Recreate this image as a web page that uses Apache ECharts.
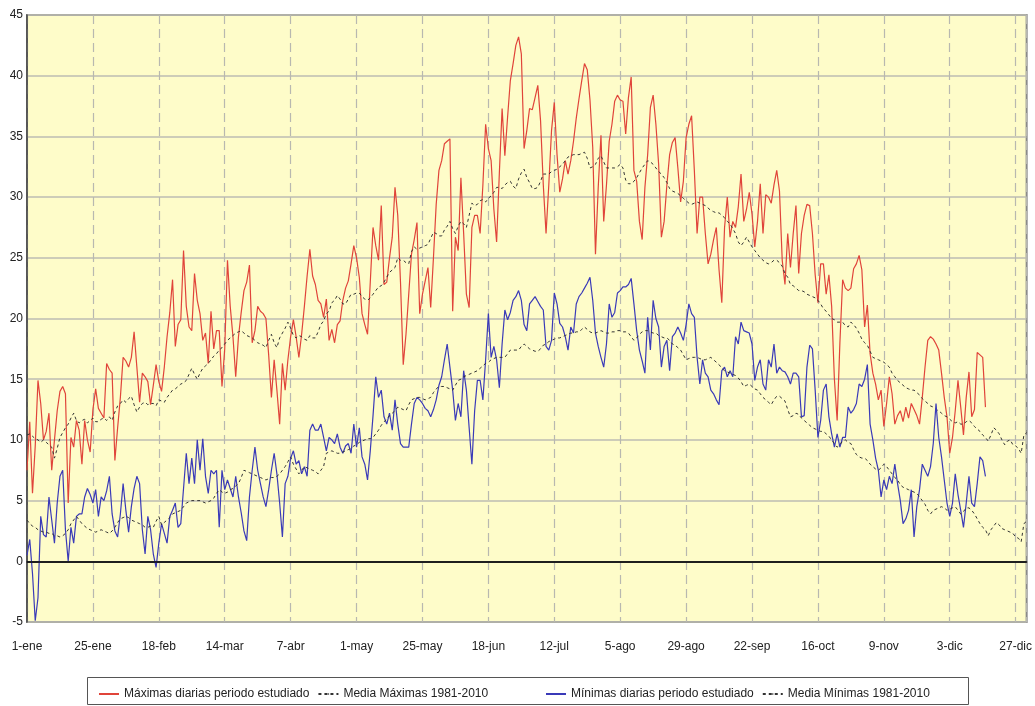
<!DOCTYPE html>
<html>
<head>
<meta charset="utf-8">
<script src="https://cdn.jsdelivr.net/npm/echarts@6/dist/echarts.min.js"></script>
<style>
html, body { margin: 0; padding: 0; background: #ffffff; }
#main { width: 1035px; height: 706px; }
</style>
</head>
<body>
<div id="main"></div>
<script>
// etiquetas del eje x (cada 24 dias)
var dayLabels = ['1-ene','25-ene','18-feb','14-mar','7-abr','1-may','25-may','18-jun','12-jul','5-ago','29-ago','22-sep','16-oct','9-nov','3-dic','27-dic'];

// maximas diarias periodo estudiado (dia 0 = 1-ene)
var maxDaily = [
7.5,11.5,5.6,9.5,14.9,13,10,10.7,12.2,7.5,
10,12.4,14,14.4,13.8,4.8,10.2,9.4,11.6,10.8,
8,11.6,10,9,12.5,14.2,12.6,12.2,11.8,16.3,
15.8,15.5,8.3,11,13.5,16.8,16.5,16,16.8,18.9,
16,13.1,15.5,15.2,14.8,12.9,14.5,16.2,14.8,14,
16,18.5,20.5,23.2,17.7,19.5,19.9,25.6,21,19.3,
19,23.7,21.5,20.4,18.2,18.8,16.3,20.6,17.5,19,
19,14.4,17.5,24.8,21,18.5,15.2,18.5,20.5,22.3,
23,24.4,18,19,21,20.6,20.4,20,17,13.5,
16.6,14.1,11.3,16.3,14.1,16.6,18.5,19.9,18.5,16.8,
18.7,21,23.5,25.7,23.5,22.8,21.5,21.2,20.1,21.6,
18.2,19.1,18,19.5,19.8,21.5,22.5,23.1,24.5,26,
25,23.4,20.4,19.5,18.7,23,27.5,26,24.8,29.3,
22.8,23,25,26.7,30.8,28.5,23,16.2,18.7,22,
25.3,26.5,27.9,20.4,22,23.1,24.2,20.9,25,29.4,
32.2,33,34.4,34.6,34.8,20.6,26.7,25.6,31.6,27,
22,20.9,27.5,28.5,28.5,27,31,36,34,33,
29,26.3,32,37.3,33.4,36.6,39.6,41,42.5,43.2,
41.8,34,35.5,37.3,37.2,38.2,39.2,36.3,31,27,
31,35.5,37.8,33.5,30.4,31.5,33,31.9,33,34.6,
36.5,38.1,39.6,41,40.5,38,34.1,25.3,30.8,35.1,
28,31,34.6,36,37.9,38.4,38,37.9,35.2,38.2,
39.9,32.2,31.3,28,26.5,30.8,33.5,37.4,38.4,36,
32.7,26.7,28,31,33.5,34.5,34.9,32.4,29.6,31.3,
34.9,36,36.7,32.2,27,30,30,27,24.5,25.3,
26.5,27.5,24,21.3,27.5,30,26.7,28,27.5,29.2,
31.9,28,29,30.4,28.6,25.9,28,31.1,27,30.2,
30,29.5,31,32.2,30.5,24.8,22.8,27,24.2,27,
29.3,23.7,27,28.5,29.4,29.3,27,23.6,21.3,24.5,
24.5,22,23.6,21,15,11.6,18,23.2,22.5,22.3,
22.5,24.1,24.5,25.2,24,19.3,21.1,17.1,15.5,14.6,
13.3,14.1,11.1,13,15.2,13.8,11.3,12,12.4,11.5,
12.7,11.8,13,12.5,12,11.3,13.5,16,18.2,18.5,
18.3,17.9,17.4,15.5,13.5,11.9,8.9,10.2,12.4,14.9,
12.7,10.4,13.5,15.6,11.9,12.5,17.2,17,16.8,12.7
];

// media maximas 1981-2010
var maxMean = [
10.4,10.5,10.3,10.1,10.0,9.8,10.0,9.8,9.6,9.4,
8.5,9.3,10.2,10.6,11.0,11.3,11.8,12.2,11.6,11.4,
11.6,11.7,11.4,11.6,11.8,11.5,11.5,11.7,11.8,11.6,
11.9,11.6,12.3,12.8,13.0,13.3,13.1,13.4,13.6,12.9,
12.3,12.7,13.0,13.1,12.9,13.0,13.0,12.8,13.3,13.2,
13.1,13.5,13.8,14.1,14.2,14.4,14.6,14.7,14.9,15.4,
15.9,15.4,15.0,15.5,15.9,16.1,16.3,16.6,16.9,17.1,
17.4,17.6,17.9,18.2,18.4,18.6,18.8,18.9,19.0,18.8,
18.6,18.5,18.4,18.2,18.0,17.9,17.8,17.6,18.2,18.7,
18.0,17.6,18.4,18.8,19.2,19.7,19.2,18.6,18.4,18.6,
18.5,18.3,18.2,18.6,18.4,18.4,18.9,19.5,19.8,20.4,
20.6,21.3,21.5,21.9,21.6,21.2,21.2,21.6,22.0,22.0,
22.1,22.1,21.8,21.6,21.5,21.7,22.0,22.3,22.6,22.7,
23.0,23.4,23.8,24.0,24.2,25.0,24.8,24.8,24.6,24.5,
25.5,25.9,25.7,25.8,25.9,26.0,26.1,26.6,27.1,27.0,
26.8,26.8,27.3,27.6,28.0,27.4,27.0,27.6,28.0,27.8,
27.5,28.5,29.5,29.3,29.4,29.7,29.8,29.6,29.9,30.1,
30.4,30.8,30.8,30.7,31.0,31.2,31.3,30.9,30.7,31.5,
32.0,32.3,31.6,31.2,30.7,30.7,30.8,31.3,31.9,31.9,
31.9,32.1,32.2,32.3,32.5,32.7,33.0,33.3,33.4,33.5,
33.5,33.5,33.6,33.7,33.2,32.4,32.5,32.7,33.2,33.4,
32.9,32.4,32.4,32.4,32.4,32.5,32.7,32.4,31.4,31.1,
31.1,31.3,31.6,32.0,32.4,32.7,33.0,32.9,32.7,32.4,
32.1,31.9,31.6,31.2,30.7,30.5,30.4,30.3,30.1,29.9,
29.7,29.5,29.4,29.5,29.6,29.5,29.4,29.3,29.1,28.9,
28.8,28.7,28.7,28.5,28.3,28.0,27.8,27.4,27.0,26.3,
26.0,26.3,26.7,26.3,25.9,25.6,25.3,25.0,24.8,24.6,
24.5,24.6,24.8,24.8,24.6,24.3,23.7,23.4,22.8,22.7,
22.5,22.3,22.3,22.2,22.0,21.9,21.8,21.7,21.5,21.2,
20.8,20.6,20.3,20.0,19.9,19.7,19.7,19.7,19.4,19.3,
19.7,19.5,19.2,18.8,18.3,18.0,17.8,17.3,16.8,16.7,
16.6,16.5,16.4,16.2,16.0,15.5,15.2,14.9,14.7,14.5,
14.3,14.2,14.1,14.1,13.9,13.7,13.4,13.2,13.0,12.8,
12.7,12.5,12.4,12.2,12.0,11.9,11.7,11.5,11.4,11.5,
11.3,11.3,11.5,11.6,11.4,11.1,10.9,10.7,10.4,10.2,
9.9,10.4,11.0,10.8,10.5,10.0,9.6,9.9,10.0,9.6,
9.5,9.3,8.9,10.4,10.6
];

// minimas diarias periodo estudiado
var minDaily = [
0.5,1.8,-1,-4.9,-3,3.7,2.2,2,5.3,3.4,
1.5,4.8,7,7.5,2.6,0,2.8,1.5,3.7,3.9,
3.9,5.3,6,5.5,4.8,5.9,3.7,5.3,5,5.8,
7,3.9,2.5,2,3.9,6.4,4.2,2.4,4.5,6,
7,6.4,2.6,0.6,3.7,2.6,0.6,-0.5,1.5,3.1,
2.3,1.5,3.7,4.2,4.8,2.8,3.1,6,8.9,6.4,
8.5,6.4,10,7.5,10.1,7,5.6,7.5,7.2,7.5,
2.8,7.5,5.9,6.7,6,5.3,7,5.3,4,2.5,
1.7,5.3,7.5,9.4,7.5,6.4,5.3,4.5,5.9,7.5,
8.9,7.2,4.8,2,6.4,7,8.5,9.1,8,8.3,
7.2,7.8,7,10.8,11.3,10.8,10.8,11.3,10.2,9.1,
10.2,10,9.7,10.5,9.4,8.9,9.5,9.7,8.9,11.3,
9.4,11,8.6,8,6.7,9.1,12,15.2,13.5,14.1,
11.9,11.3,12.2,10.8,13.3,11.3,9.7,9.4,9.4,9.4,
11.3,13,13.5,13.3,13,12.6,12.4,11.9,12.5,13.3,
14.5,15.2,16.6,17.9,16,14.1,11.6,13,11.9,15.7,
14.1,11,8,12.4,14.9,14.9,13.3,16.6,20.4,16.8,
17.7,16.6,14.3,17.9,20.7,19.9,20.5,21.5,21.8,22.3,
21.5,19.5,19,21.2,21.5,21.8,21.4,21,20.7,17.7,
17.4,18.2,22.1,21.2,19.6,19.3,18.5,17.4,19.3,18.8,
21.2,21.8,22.1,22.5,22.9,23.4,21.5,18.8,17.7,16.8,
16,17.9,21.2,20.1,20.5,22.1,22.3,22.6,22.6,22.8,
23.3,21.2,19,17.4,16.5,15.5,20.1,17.4,21.5,20,
19.3,16,17.7,18.2,15.7,18.5,18.8,19.3,18.8,18.2,
19.5,21.2,20.4,20.1,16.8,14.6,16.6,15.5,15.2,14.1,
13.8,13.3,12.9,15.7,16,15.2,15.7,15.2,18.5,17.9,
19.7,19,18.9,18.8,17.9,14.9,16,16.6,14.6,14.1,
16.6,16,17.9,15.5,16,15.7,15.6,15.2,14.6,15.5,
15.5,15.2,11.9,12,16,17.8,17.5,14.1,10.2,11.6,
14.1,14.6,11.9,10.5,9.4,10.5,9.4,10.2,10.2,12.7,
12.2,12.5,13,14.6,14.4,15,16.2,11.3,10,8.5,
7.5,5.3,6.7,5.9,7,6.4,8,6.4,5,3.1,
3.5,4.2,5.9,2,4.5,5.9,8,7.5,7,7.8,
9.7,13,10.2,8.6,6.7,4.8,3.7,4.8,7.2,5.5,
4.2,2.8,4.8,7,4.8,4.5,6.4,8.6,8.3,7
];

// media minimas 1981-2010
var minMean = [
3.4,3.1,2.9,2.8,2.6,2.5,2.4,2.4,2.3,2.3,
2.1,2.1,2.0,2.1,2.3,2.6,3.1,3.4,3.7,3.4,
3.1,2.9,2.7,2.6,2.5,2.4,2.5,2.6,2.5,2.4,
2.3,2.5,2.8,3.2,3.5,3.6,3.7,3.6,3.4,3.3,
3.2,3.1,3.0,2.8,2.8,2.9,2.8,3.3,3.7,3.0,
3.2,3.4,3.6,3.9,4.0,4.1,4.2,4.5,4.8,4.9,
5.0,5.0,5.0,5.0,4.9,4.8,4.9,5.0,5.2,5.6,
5.9,5.7,5.6,5.7,5.9,6.0,6.2,6.4,6.9,7.5,
7.4,7.3,7.2,7.1,7.0,6.9,6.8,6.7,6.8,6.9,
6.9,7.0,7.2,7.5,7.8,8.2,8.6,8.0,7.6,7.2,
7.5,7.8,7.7,7.6,7.5,7.4,7.2,7.5,7.8,8.9,
9.0,9.1,9.0,8.9,8.9,9.0,9.1,9.2,9.3,9.5,
9.6,9.8,9.9,10.0,10.1,10.1,10.2,10.5,10.8,11.2,
11.5,11.7,12.0,12.2,12.4,12.7,12.6,12.5,12.4,12.9,
13.3,13.4,13.5,13.5,13.4,13.3,13.4,13.5,13.9,14.2,
14.4,14.4,14.4,14.3,14.2,14.1,14.5,14.9,15.0,15.2,
15.3,15.4,15.5,15.6,15.7,15.9,16.1,16.3,16.4,16.6,
16.7,16.8,16.8,16.8,16.8,17.1,17.4,17.4,17.4,17.4,
17.7,17.9,17.7,17.5,17.4,17.3,17.3,17.5,17.8,17.9,
18.1,18.2,18.3,18.4,18.4,18.5,18.6,18.7,18.8,18.8,
18.9,18.9,19.1,19.3,19.1,18.9,18.8,18.8,18.9,19.0,
18.9,18.8,18.8,18.9,18.9,19.0,19.0,18.9,18.9,18.8,
18.5,18.2,18.4,18.7,18.9,19.0,19.0,18.9,18.8,18.8,
18.6,18.5,18.4,18.4,18.2,17.9,17.8,17.6,17.4,17.0,
16.6,16.7,16.8,16.8,16.8,16.7,16.6,16.6,16.7,16.8,
16.6,16.4,16.2,15.9,15.7,15.6,15.5,15.4,15.3,15.1,
14.8,14.4,14.5,14.6,14.4,14.2,14.1,13.8,13.5,13.3,
13.1,12.9,13.3,13.6,13.6,13.4,13.2,12.5,11.9,12.0,
12.2,12.1,11.8,11.6,11.4,11.2,11.0,10.9,10.8,10.7,
10.7,10.5,10.3,10.0,9.7,9.4,9.6,9.9,10.0,9.8,
9.7,9.2,8.8,8.6,8.5,8.5,8.3,8.0,7.8,7.6,
7.5,7.7,8.0,7.8,7.5,7.2,6.9,6.7,6.3,6.1,
6.0,5.9,5.8,5.7,5.6,5.3,5.0,4.7,4.2,3.9,
4.2,4.3,4.4,4.5,4.4,4.2,4.3,4.4,4.5,4.2,
3.9,4.1,4.4,4.4,4.2,3.9,3.5,3.1,2.8,2.6,
2.1,2.6,2.9,3.2,3.0,2.7,2.6,2.5,2.4,2.3,
2.0,1.9,1.6,3.1,3.3
];

var fontName = "'Liberation Sans', Arial, sans-serif";

function toPairs(arr) {
	return arr.map(function (v, i) { return [i, v]; });
}

var myChart = echarts.init(document.getElementById('main'));

var option = {
	animation: false,
	backgroundColor: '#ffffff',
	textStyle: { fontFamily: fontName },
	grid: {
		left: 27,
		right: 5,
		top: 15,
		bottom: 84,
		show: true,
		backgroundColor: '#fefcc9',
		borderColor: '#8a8a8a',
		borderWidth: 2
	},
	graphic: [
		{
			type: 'rect',
			left: 87,
			top: 677,
			shape: { width: 881, height: 27 },
			style: { fill: '#ffffff', stroke: '#555555', lineWidth: 1 },
			z: 0
		}
	],
	legend: [
		{
			left: 93,
			top: 683,
			itemWidth: 20,
			itemHeight: 2,
			itemGap: 8,
			textStyle: { fontSize: 12, color: '#222', fontFamily: fontName },
			data: ['Máximas diarias periodo estudiado', 'Media Máximas 1981-2010']
		},
		{
			left: 540,
			top: 683,
			itemWidth: 20,
			itemHeight: 2,
			itemGap: 8,
			textStyle: { fontSize: 12, color: '#222', fontFamily: fontName },
			data: ['Mínimas diarias periodo estudiado', 'Media Mínimas 1981-2010']
		}
	],
	xAxis: {
		type: 'value',
		min: 0,
		max: 364,
		interval: 24,
		axisLine: { show: true, lineStyle: { color: '#222', width: 1.5 } },
		axisTick: { show: false },
		axisLabel: {
			margin: 19,
			fontSize: 12,
			color: '#222',
			fontFamily: fontName,
			formatter: function (v) {
				return v % 24 === 0 ? dayLabels[v / 24] : '';
			}
		},
		splitLine: {
			show: true,
			lineStyle: { color: '#b8b8b0', width: 1.2, type: [9, 5] }
		}
	},
	yAxis: {
		type: 'value',
		min: -5,
		max: 45,
		interval: 5,
		axisLine: { show: true, lineStyle: { color: '#444', width: 1.5 } },
		axisTick: { show: false },
		axisLabel: { margin: 4, fontSize: 12, color: '#222', fontFamily: fontName },
		splitLine: { show: true, lineStyle: { color: '#bdbdb2', width: 1.5 } }
	},
	series: [
		{
			name: 'Máximas diarias periodo estudiado',
			type: 'line',
			showSymbol: false,
			symbol: 'none',
			color: '#e0443a',
			lineStyle: { color: '#e0443a', width: 1.2 },
			data: toPairs(maxDaily),
			markLine: {
				silent: true,
				symbol: 'none',
				label: { show: false },
				lineStyle: { color: '#111', width: 1.5, type: 'solid' },
				data: [{ yAxis: 0 }]
			}
		},
		{
			name: 'Media Máximas 1981-2010',
			type: 'line',
			showSymbol: false,
			symbol: 'none',
			color: '#333',
			lineStyle: { color: '#333', width: 1, type: [3, 3] },
			data: toPairs(maxMean)
		},
		{
			name: 'Mínimas diarias periodo estudiado',
			type: 'line',
			showSymbol: false,
			symbol: 'none',
			color: '#3a3ab8',
			lineStyle: { color: '#3a3ab8', width: 1.2 },
			data: toPairs(minDaily)
		},
		{
			name: 'Media Mínimas 1981-2010',
			type: 'line',
			showSymbol: false,
			symbol: 'none',
			color: '#333',
			lineStyle: { color: '#333', width: 1, type: [3, 3] },
			data: toPairs(minMean)
		}
	]
};

myChart.setOption(option);
</script>
</body>
</html>
